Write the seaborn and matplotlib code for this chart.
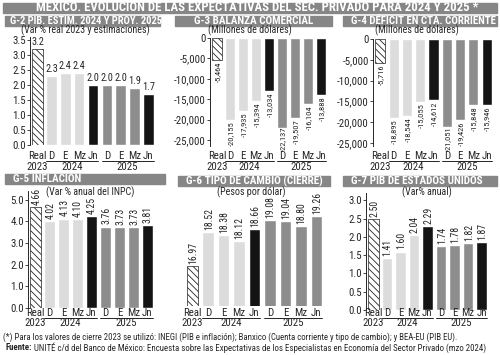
import matplotlib
matplotlib.use('Agg')
import matplotlib.pyplot as plt
import matplotlib.transforms as mtransforms
from matplotlib import font_manager
from matplotlib.patches import Rectangle
from matplotlib.ticker import FuncFormatter
import seaborn as sns
import pandas as pd

# ─────────────────────────────────────────────
# datos
# ─────────────────────────────────────────────
meses = ['Real', 'D', 'E', 'Mz', 'Jn', 'D', 'E', 'Mz', 'Jn']
anios = ['2023', '2024', '2025']

pib_mx = [3.2, 2.3, 2.4, 2.4, 2.0, 2.0, 2.0, 1.9, 1.7]
balanza = [-5464, -20155, -17935, -15394, -13034, -22137, -19507, -16104, -13888]
cta_corriente = [-5716, -18895, -18544, -15055, -14612, -21051, -19426, -15848, -15946]
inflacion = [4.66, 4.02, 4.13, 4.10, 4.25, 3.76, 3.73, 3.73, 3.81]
tipo_cambio = [16.97, 18.52, 18.38, 18.12, 18.66, 19.08, 19.04, 18.80, 19.26]
pib_eu = [2.50, 1.41, 1.60, 2.04, 2.29, 1.74, 1.78, 1.82, 1.87]

titulo = 'MÉXICO. EVOLUCIÓN DE LAS EXPECTATIVAS DEL SEC. PRIVADO PARA 2024 Y 2025 *'
nota = ('(*) Para los valores de cierre 2023 se utilizó: INEGI (PIB e inflación); '
        'Banxico (Cuenta corriente y tipo de cambio); y BEA-EU (PIB EU).')
fuente = ('UNITÉ c/d del Banco de México: Encuesta sobre las Expectativas de los '
          'Especialistas en Economía del Sector Privado (mzo 2024)')

CLARO, MEDIO, NEGRO, BARRA = '#dcdcdc', '#8d8d8d', '#141414', '#868686'
COLORES = ['white', CLARO, CLARO, CLARO, NEGRO, MEDIO, MEDIO, MEDIO, NEGRO]

sns.set_style('ticks')

# buscar una fuente angosta; si no hay, se achica el texto
fuentes = font_manager.fontManager.ttflist
nombres = {f.name for f in fuentes}
ESC = 1.0
if 'Liberation Sans Narrow' in nombres:
    plt.rcParams['font.family'] = ['Liberation Sans Narrow', 'DejaVu Sans']
elif 'Roboto Condensed' in nombres:
    plt.rcParams['font.family'] = ['Roboto Condensed', 'DejaVu Sans']
elif any(f.name == 'DejaVu Sans' and 'condensed' in str(f.stretch) for f in fuentes):
    plt.rcParams['font.family'] = ['DejaVu Sans']
    plt.rcParams['font.stretch'] = 'condensed'
    ESC = 0.92
else:
    plt.rcParams['font.family'] = ['Roboto', 'DejaVu Sans']
    ESC = 0.8
plt.rcParams['hatch.linewidth'] = 0.6

W, H = 500, 355
fig = plt.figure(figsize=(W / 100, H / 100), dpi=100)
etiquetas_neg = []   # etiquetas bajo barras negativas, se ajustan al final


def px(x0, y0, x1, y1):
    return [x0 / W, 1 - y1 / H, (x1 - x0) / W, (y1 - y0) / H]


def fy(y):
    return 1 - y / H


def barra_titulo(x0, x1, yc, texto, ha='center', size=7.5, h=10, xt=None):
    fig.patches.append(Rectangle((x0 / W, fy(yc + h / 2)), (x1 - x0) / W, h / H,
                                 transform=fig.transFigure, color=BARRA, zorder=0))
    if xt is None:
        xt = {'center': (x0 + x1) / 2, 'left': x0 + 8, 'right': x1 - 3}[ha]
    fig.text(xt / W, fy(yc), texto, ha=ha, va='center', color='white',
             fontsize=size * ESC, fontweight='bold')


def panel(rect, vals, ylim, fmt_val, fmt_tick, yticks, rotar, filas,
          colores=COLORES, eje_y=True, tam_val=7):
    ax = fig.add_axes(rect)
    df = pd.DataFrame({'pos': range(len(vals)), 'valor': vals})
    sns.barplot(data=df, x='pos', y='valor', hue='pos', palette=colores,
                legend=False, width=0.76, saturation=1, ax=ax)
    barras = sorted(ax.patches, key=lambda p: p.get_x())
    real = barras[0]
    real.set_hatch('\\\\\\\\\\')
    real.set_edgecolor('#222222')
    real.set_linewidth(0.5)

    for b, v in zip(barras, vals):
        xc = b.get_x() + b.get_width() / 2
        if rotar:
            off = 1.5 if v >= 0 else -1.0
            an = ax.annotate(fmt_val(v), (xc, v), xytext=(0.5, off),
                             textcoords='offset points', ha='center',
                             va='bottom' if v >= 0 else 'top', rotation=90,
                             fontsize=tam_val * ESC)
            if v < 0:
                etiquetas_neg.append((an, filas[0] - 4.5))
        else:
            ax.annotate(fmt_val(v), (xc, v), xytext=(0, 1.5), textcoords='offset points',
                        ha='center', va='bottom', fontsize=tam_val * ESC)

    ax.set_xlim(-0.55, 8.55)
    ax.set_ylim(*ylim)
    ax.set_xlabel('')
    ax.set_ylabel('')
    ax.set_xticks([])

    sns.despine(ax=ax, bottom=True, left=not eje_y)
    if eje_y:
        ax.set_yticks(yticks)
        ax.yaxis.set_major_formatter(FuncFormatter(lambda v, _: fmt_tick(v)))
        ax.tick_params(axis='y', labelsize=7.8 * ESC, length=2, width=0.6, pad=1)
        ax.spines['left'].set_linewidth(0.7)
    else:
        ax.set_yticks([])

    # meses, años y líneas de grupo (y en píxeles de la figura)
    y_mes, y_linea, y_anio = filas
    tr = mtransforms.blended_transform_factory(ax.transData, fig.transFigure)
    for i, m in enumerate(meses):
        ax.text(i, fy(y_mes), m, transform=tr, ha='center', va='center',
                fontsize=7.8 * ESC, clip_on=False)
    for xc, anio in zip([0, 2.5, 6.5], anios):
        ax.text(xc, fy(y_anio), anio, transform=tr, ha='center', va='center',
                fontsize=7.8 * ESC, clip_on=False)
    for a, b in [(0.62, 4.38), (4.62, 8.38)]:
        ax.plot([a, b], [fy(y_linea)] * 2, transform=tr, color='black', lw=0.6,
                clip_on=False)
    return ax


f1 = lambda v: f'{v:.1f}'
f2 = lambda v: f'{v:.2f}'
fm = lambda v: f'{v:,.0f}'

arriba = (155.5, 160.5, 166.5)
abajo = (312.5, 317.5, 323)

# fila superior
panel(px(30, 37, 156, 145), pib_mx, (0, 3.6), f1, f1,
      [0, 0.5, 1, 1.5, 2, 2.5, 3, 3.5], rotar=False, filas=arriba, tam_val=7.4)
panel(px(210, 38, 328, 146), balanza, (-26500, 0), fm, fm,
      [0, -5000, -10000, -15000, -20000, -25000], rotar=True, filas=arriba,
      tam_val=6.1)
panel(px(373, 39, 494, 146), cta_corriente, (-25700, 0), fm, fm,
      [0, -5000, -10000, -15000, -20000, -25000], rotar=True, filas=arriba,
      tam_val=6.1)

# fila inferior
panel(px(28, 191, 155, 308), inflacion, (0, 5.4), f2, f1,
      [0, 1, 2, 3, 4, 5], rotar=True, filas=abajo)
col_tc = COLORES[:8] + [MEDIO]
panel(px(184, 195, 325, 306), tipo_cambio, (15.1, 20.25), f2, f2,
      [], rotar=True, filas=abajo, colores=col_tc, eje_y=False)
panel(px(366, 193, 489, 310), pib_eu, (0, 3.2), f2, f1,
      [0, 0.5, 1, 1.5, 2, 2.5, 3], rotar=True, filas=abajo)

# títulos
barra_titulo(3, 497, 7.5, titulo, size=9.2, h=10, xt=257)
barra_titulo(5, 160, 20.5, 'G-2 PIB. ESTIM. 2024 Y PROY. 2025', size=7.6, xt=86)
barra_titulo(175, 332, 20.5, 'G-3 BALANZA COMERCIAL', size=8)
barra_titulo(343, 497, 20.5, 'G-4 DÉFICIT EN CTA. CORRIENTE', size=7.8, xt=423)
barra_titulo(5, 165, 179, 'G-5 INFLACIÓN', ha='left', size=8)
barra_titulo(178, 330, 181, 'G-6 TIPO DE CAMBIO (CIERRE)', size=8)
barra_titulo(343, 497, 181, 'G-7 PIB DE ESTADOS UNIDOS', ha='left', size=8)

# subtítulos
for x, y, t in [(85, 30, '(Var % real 2023 y estimaciones)'),
                (250, 30, '(Millones de dólares)'),
                (417, 30, '(Millones de dólares)'),
                (90, 192.5, '(Var % anual del INPC)'),
                (251, 192.5, '(Pesos por dólar)'),
                (427, 192.5, '(Var% anual)')]:
    fig.text(x / W, fy(y), t, ha='center', va='center', fontsize=7.2 * ESC)

# notas
fig.text(3 / W, fy(337), nota, ha='left', va='center', fontsize=6.3 * ESC)
t = fig.text(5 / W, fy(348), 'Fuente:', ha='left', va='center', fontsize=6.4 * ESC,
             fontweight='bold')
fig.canvas.draw()
bb = t.get_window_extent()
fig.text((bb.x1 + 2) / W, fy(348), fuente, ha='left', va='center', fontsize=6.4 * ESC)

# las etiquetas más largas se suben para no pisar los meses (como en el original)
for an, y_lim in etiquetas_neg:
    caja = an.get_window_extent()
    minimo = H - y_lim
    if caja.y0 < minimo:
        dx, dy = an.xyann
        an.xyann = (dx, dy + (minimo - caja.y0) * 0.72)

fig.savefig('out.png', dpi=100)
